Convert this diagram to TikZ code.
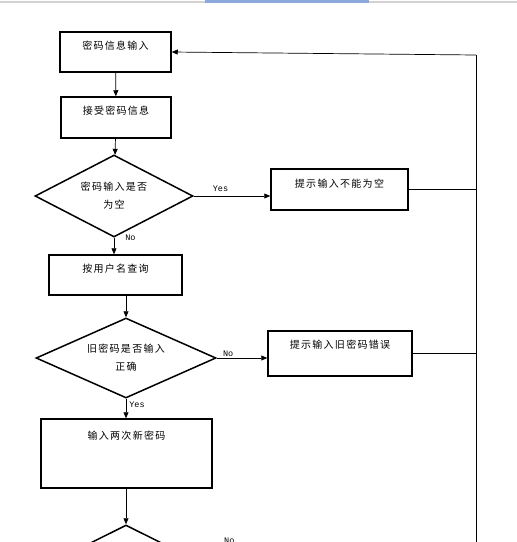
\documentclass[tikz,border=0pt]{standalone}
\usepackage{fontspec}
\usetikzlibrary{shapes.geometric,arrows.meta}
\newfontfamily\cjk[LetterSpace=13]{Noto Sans CJK SC}
\newfontfamily\lbl{Liberation Mono}
\definecolor{tabblue}{HTML}{8DA9DB}

\begin{document}
\begin{tikzpicture}[x=1pt,y=-1pt,
  box/.style={rectangle,draw,line width=1.5pt,inner ysep=9pt,text height=8pt,
    font=\cjk\fontsize{10}{12}\selectfont},
  choice/.style={diamond,aspect=2,draw,line width=1.5pt,inner sep=0pt,align=center,
    font=\cjk\fontsize{10}{18}\selectfont},
  link/.style={draw,line width=0.7pt,-{Triangle[length=6pt,width=5pt]}},
  wire/.style={draw,line width=0.7pt},
  tag/.style={font=\lbl\fontsize{8.5}{9}\selectfont,inner sep=1pt}]
\useasboundingbox (0,0) rectangle (517,542);
\clip (0,0) rectangle (517,542);
% window edge at the top
\fill[gray!35] (0,1) rectangle (517,2.5);
\fill[tabblue] (205,0) rectangle (369,2.5);

\node[box,minimum width=111,text depth=14pt] (pwdin) at (115.5,52) {密码信息输入};
\node[box,minimum width=110,text depth=15pt] (accept) at (116,117.5) {接受密码信息};
\node[choice,minimum width=158,minimum height=82] (ask1) at (114,196) {密码输入是否\\为空};
\node[box,minimum width=137,text height=9pt,text depth=14pt] (hint1) at (339.5,189.5) {提示输入不能为空};
\node[box,minimum width=133,text depth=14pt] (query) at (115.5,275) {按用户名查询};
\node[choice,minimum width=180,minimum height=80] (ask2) at (126,358) {旧密码是否输入\\正确};
\node[box,minimum width=144,text depth=19pt] (hint2) at (340,353.5) {提示输入旧密码错误};
\node[box,minimum width=171,text height=11pt,text depth=40pt] (newpwd) at (126.5,453.5) {输入两次新密码};
\node[choice,minimum width=160,minimum height=80] (ask3) at (126,565) {};
\node[tag,anchor=north west] (no3) at (223,537) {No};

\coordinate (rtop) at (476,55);
\coordinate (rbot) at (476,545);

\draw[link] (pwdin) -- (accept);
\draw[link] (accept) -- (ask1);
\draw[link] (ask1.east) -- node[tag,above=3pt,pos=0.35] {Yes} (ask1.east -| hint1.west);
\draw[link] (ask1.south) -- node[tag,anchor=west,pos=0,xshift=10pt] {No} (query.north -| ask1.south);
\draw[link] (ask2.north |- query.south) -- (ask2.north);
\draw[link] (ask2.east) -- node[tag,anchor=south west,pos=0,xshift=5pt] {No} (ask2.east -| hint2.west);
\draw[link] (ask2.south) -- node[tag,anchor=west,pos=0.3,xshift=2pt] {Yes} (newpwd.north -| ask2.south);
\draw[link] (newpwd.south -| ask3.north) -- (ask3.north);
% way back to the start
\draw[wire] (hint1.east) -- (hint1.east -| rtop);
\draw[wire] (hint2.east) -- (hint2.east -| rtop);
\draw[wire] (rbot) -- (rtop);
\draw[link] (rtop) -- (pwdin.east);
\end{tikzpicture}
\end{document}
